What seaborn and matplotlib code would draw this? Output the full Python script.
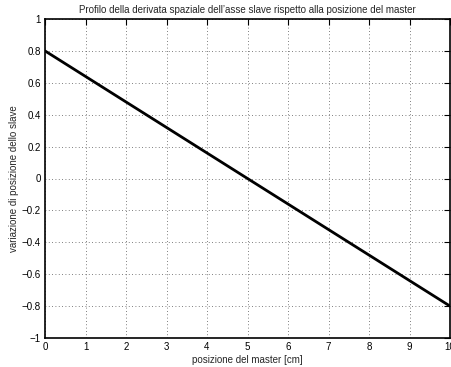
import matplotlib
matplotlib.use("Agg")
import matplotlib.pyplot as plt
import numpy as np
import pandas as pd
import seaborn as sns

# Valori
posizione_master = [0, 1, 2, 3, 4, 5, 6, 7, 8, 9, 10]
variazione_slave = [0.8, 0.64, 0.48, 0.32, 0.16, 0.0, -0.16, -0.32, -0.48, -0.64, -0.8]
x_ticks = [0, 1, 2, 3, 4, 5, 6, 7, 8, 9, 10]
y_ticks = [-1, -0.8, -0.6, -0.4, -0.2, 0, 0.2, 0.4, 0.6, 0.8, 1]
y_tick_labels = ["\u22121", "\u22120.8", "\u22120.6", "\u22120.4", "\u22120.2", "0",
                 "0.2", "0.4", "0.6", "0.8", "1"]

sns.set_theme(style="white")
plt.rcParams["font.family"] = ["Liberation Sans", "DejaVu Sans"]

df = pd.DataFrame({"x": posizione_master, "y": variazione_slave})

fig = plt.figure(figsize=(4.51, 3.67), dpi=100)
ax = fig.add_axes([45 / 451, 29 / 367, 405 / 451, 319 / 367])
sns.lineplot(data=df, x="x", y="y", ax=ax, color="black", linewidth=2)

ax.set_xlim(0, 10)
ax.set_ylim(-1, 1)
ax.set_xticks(x_ticks)
ax.set_xticklabels([str(t) for t in x_ticks])
ax.set_yticks(y_ticks)
ax.set_yticklabels(y_tick_labels)
ax.grid(True, linestyle=(0, (1, 3)), color="#555555", linewidth=0.6)
ax.tick_params(direction="in", length=4, width=0.8, labelsize=7, colors="black",
               top=True, right=True, pad=3)
for s in ax.spines.values():
    s.set_visible(True)
    s.set_color("black")
    s.set_linewidth(1.2)

ax.set_xlabel("posizione del master [cm]", fontsize=7, labelpad=2)
ax.set_ylabel("variazione di posizione dello slave", fontsize=7, labelpad=2)
ax.set_title("Profilo della derivata spaziale dell\u2019asse slave rispetto alla posizione del master",
             fontsize=7, pad=4)

fig.savefig("out.png", dpi=100)
